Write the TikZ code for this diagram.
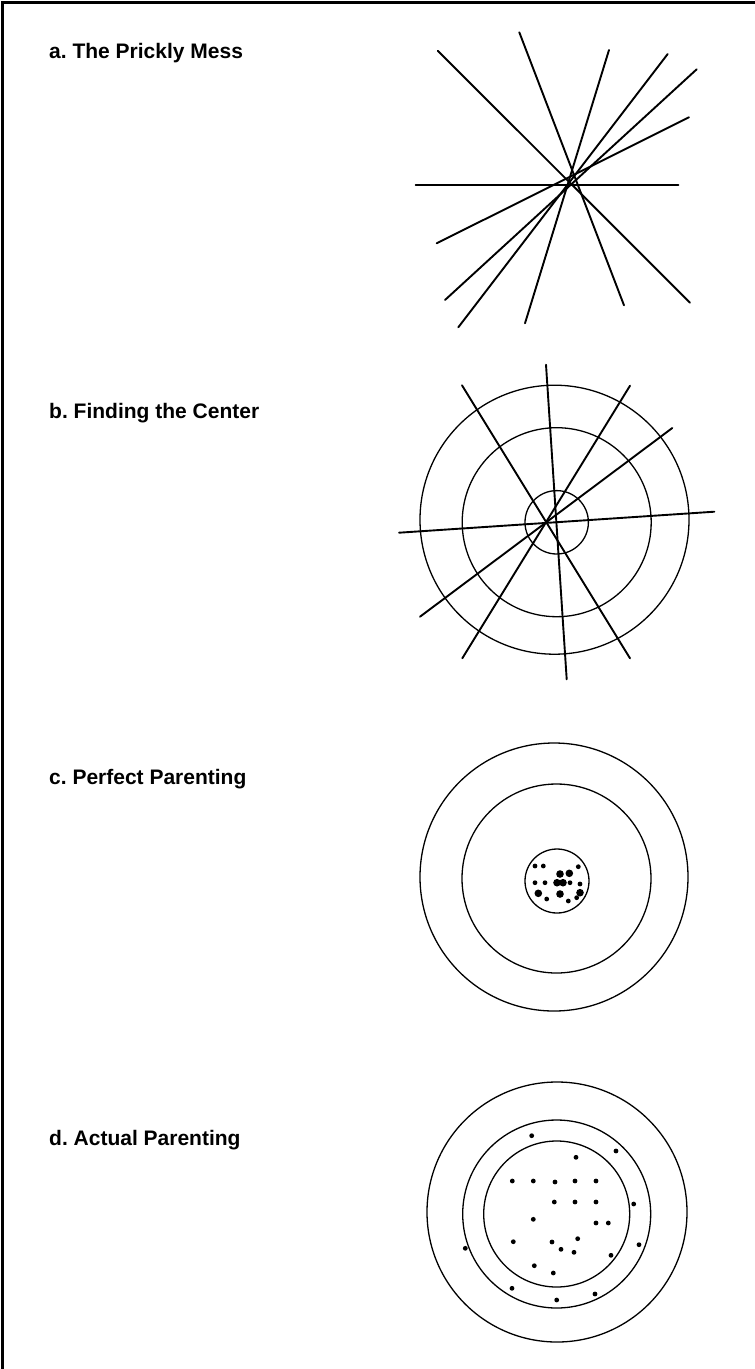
\documentclass[tikz,border=0pt]{standalone}
\usepackage{fontspec}
\setmainfont{Liberation Sans}
\frenchspacing
\begin{document}
\begin{tikzpicture}[x=1pt, y=-1pt]
\tikzset{caption/.style={anchor=base west, inner sep=0pt, font=\fontsize{21}{25}\selectfont\bfseries},
  stick/.style={line width=1.9pt, line cap=round},
  ring/.style={line width=1.3pt},
  pt/.style={fill=black}}
\useasboundingbox (0,0) rectangle (755,1369);
\draw[line width=2.2pt] (756,2.5) -- (2.5,2.5) -- (2.5,1370);

\node[caption] (la) at (49,58) {a. The Prickly Mess};
\node[caption] (lb) at (49,418) {b. Finding the Center};
\node[caption] (lc) at (49,784) {c. Perfect Parenting};
\node[caption] (ld) at (49,1145) {d. Actual Parenting};

% a
\draw[stick] (437.7,50.7) -- (690,302.7);
\draw[stick] (519.3,32.3) -- (624,305.3);
\draw[stick] (609,50) -- (525,323.3);
\draw[stick] (667.7,54) -- (458.3,327.3);
\draw[stick] (696.7,69.3) -- (445,300);
\draw[stick] (689,117.3) -- (436.7,243.3);
\draw[stick] (415.7,185.3) -- (678.3,185.3);

% b
\draw[ring] (554.5,519.7) circle[radius=134.5pt];
\draw[ring] (556.7,522.2) circle[radius=94.5pt];
\draw[ring] (556.7,522.3) circle[radius=31.7pt];
\draw[stick] (399,532.7) -- (714.3,511.7);
\draw[stick] (420,616.7) -- (672.3,428);
\draw[stick] (462,385.3) -- (630,658.3);
\draw[stick] (546,364.7) -- (566.7,679.3);
\draw[stick] (630,385.7) -- (462.3,658.3);

% c
\draw[ring] (554,877) circle[radius=134pt];
\draw[ring] (556.5,878.5) circle[radius=94.5pt];
\draw[ring] (557,881) circle[radius=32pt];
\foreach \x/\y in {535/866, 543.3/866, 578.3/866.7, 535/882.7, 545/882.7, 570/882.7,
  580/884, 546.7/899, 568.3/901, 576.7/897.7}
  \fill[pt] (\x,\y) circle[radius=2.4pt];
\foreach \x/\y in {560/874, 569.3/873.3, 557/882.7, 563/882.7, 538.3/893.3, 560/894, 580/892.7}
  \fill[pt] (\x,\y) circle[radius=3.8pt];

% d
\draw[ring] (557,1212) circle[radius=130pt];
\draw[ring] (556.7,1214) circle[radius=94pt];
\draw[ring] (556.7,1214) circle[radius=73pt];
\foreach \x/\y in {531.7/1135.7, 616/1151, 576/1157.3, 512.3/1181, 533.3/1181, 555/1182,
  575/1181, 596/1181, 554.3/1202, 575/1202, 596/1202, 633.7/1204, 533.3/1219.3,
  596/1223, 608.3/1223, 513.3/1241.7, 552/1242, 577.7/1238.7, 465.3/1248.3,
  639/1244.7, 561/1249.3, 574/1252.3, 611/1255.3, 534.3/1265.7, 553.3/1273,
  512/1288.3, 595/1294, 556.7/1300}
  \fill[pt] (\x,\y) circle[radius=2.4pt];
\end{tikzpicture}
\end{document}
